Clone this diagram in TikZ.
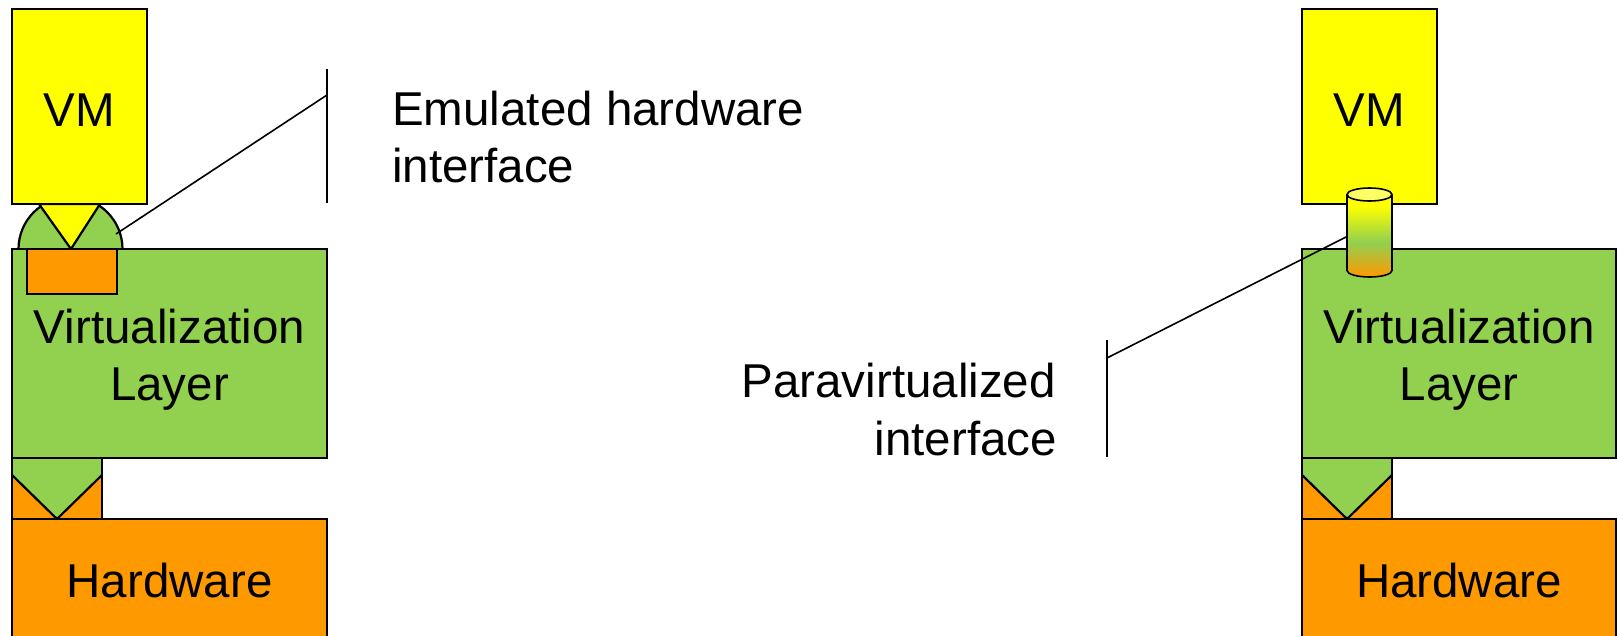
\documentclass[tikz,border=0pt]{standalone}
\usepackage{fontspec}
\setmainfont{Liberation Sans}
\definecolor{vmyellow}{HTML}{FFFF00}
\definecolor{layergreen}{HTML}{92D050}
\definecolor{hworange}{HTML}{FF9900}
\definecolor{capyellow}{HTML}{FFFF66}
\pgfdeclareverticalshading{cylgrad}{100bp}{color(0bp)=(hworange); color(25bp)=(hworange); color(46bp)=(layergreen); color(68bp)=(vmyellow); color(100bp)=(vmyellow)}
\begin{document}
\begin{tikzpicture}[x=1pt,y=-1pt,
  box/.style={draw=black,line width=2.2pt,inner sep=0pt,outer sep=0pt},
  lbl/.style={font=\fontsize{47.5}{56}\selectfont,inner sep=0pt,anchor=base},
  thinline/.style={draw=black,line width=1.6pt},
  barline/.style={draw=black,line width=2.2pt}]
\useasboundingbox (0,0) rectangle (1617,635);

% ---------------- left stack ----------------
\filldraw[fill=layergreen,line width=2.2pt] (70.5,249) circle[radius=52];
\filldraw[fill=vmyellow,line width=2.2pt,line join=miter] (39,204) -- (71,249) -- (100,204) -- cycle;
\node[box,fill=vmyellow,minimum width=135pt,minimum height=195pt] (vmL) at (79.5,106.5) {};
\node[box,fill=hworange,minimum width=90pt,minimum height=61pt] (blkL) at (57,488.5) {};
\fill[layergreen] (12,458) -- (102,458) -- (102,475) -- (57,519) -- (12,475) -- cycle;
\draw[line width=2.2pt] (12,475) -- (57,519) -- (102,475);
\draw[line width=2.2pt] (blkL.north west) rectangle (blkL.south east);
\node[box,fill=layergreen,minimum width=315pt,minimum height=209pt] (layL) at (169.5,353.5) {};
\node[box,fill=hworange,minimum width=90pt,minimum height=45pt] (emuL) at (72,271.5) {};
\node[box,fill=hworange,minimum width=315pt,minimum height=122pt] (hwL) at (169.5,580) {};

\node[lbl] (vmLt) at (79.5,126) {VM};
\node[lbl] (layLt1) at (169.5,343) {Virtualization};
\node[lbl] (layLt2) at (169.5,400) {Layer};
\node[lbl] (hwLt) at (169.5,597) {Hardware};

% ---------------- right stack ----------------
\node[box,fill=vmyellow,minimum width=135pt,minimum height=195pt] (vmR) at (1369.5,106.5) {};
\node[box,fill=hworange,minimum width=90pt,minimum height=61pt] (blkR) at (1347,488.5) {};
\fill[layergreen] (1302,458) -- (1392,458) -- (1392,475) -- (1347,519) -- (1302,475) -- cycle;
\draw[line width=2.2pt] (1302,475) -- (1347,519) -- (1392,475);
\draw[line width=2.2pt] (blkR.north west) rectangle (blkR.south east);
\node[box,fill=layergreen,minimum width=314pt,minimum height=209pt] (layR) at (1459,353.5) {};
\node[box,fill=hworange,minimum width=314pt,minimum height=122pt] (hwR) at (1459,580) {};

% paravirtualized interface cylinder
\shade[shading=cylgrad] (1347,194.5) -- (1347,270.5) arc[start angle=180,end angle=0,x radius=22.5,y radius=6.5] -- (1392,194.5) -- cycle;
\draw[line width=1.6pt] (1347,194.5) -- (1347,270.5) arc[start angle=180,end angle=0,x radius=22.5,y radius=6.5] -- (1392,194.5);
\filldraw[fill=capyellow,line width=1.6pt] (1369.5,194.5) ellipse[x radius=22.5,y radius=6.5];

\node[lbl] (vmRt) at (1369.5,126) {VM};
\node[lbl] (layRt1) at (1459,343) {Virtualization};
\node[lbl] (layRt2) at (1459,400) {Layer};
\node[lbl] (hwRt) at (1459,597) {Hardware};

% ---------------- callouts ----------------
\coordinate (emuPt) at (116,234);
\coordinate (emuBarMid) at (327,95);
\coordinate (emuBarTop) at (327,69);
\coordinate (emuBarBot) at (327,203);
\draw[thinline] (emuPt) -- (emuBarMid);
\draw[barline] (emuBarTop) -- (emuBarBot);
\node[lbl,anchor=base west] (emuT1) at (392,125) {Emulated hardware};
\node[lbl,anchor=base west] (emuT2) at (392,182) {interface};

\coordinate (paraPt) at (1346,237);
\coordinate (paraBarMid) at (1107,358);
\coordinate (paraBarTop) at (1107,340);
\coordinate (paraBarBot) at (1107,457);
\draw[thinline] (paraPt) -- (paraBarMid);
\draw[barline] (paraBarTop) -- (paraBarBot);
\node[lbl,anchor=base east] (paraT1) at (1056,397) {Paravirtualized};
\node[lbl,anchor=base east] (paraT2) at (1057,455) {interface};
\end{tikzpicture}
\end{document}
